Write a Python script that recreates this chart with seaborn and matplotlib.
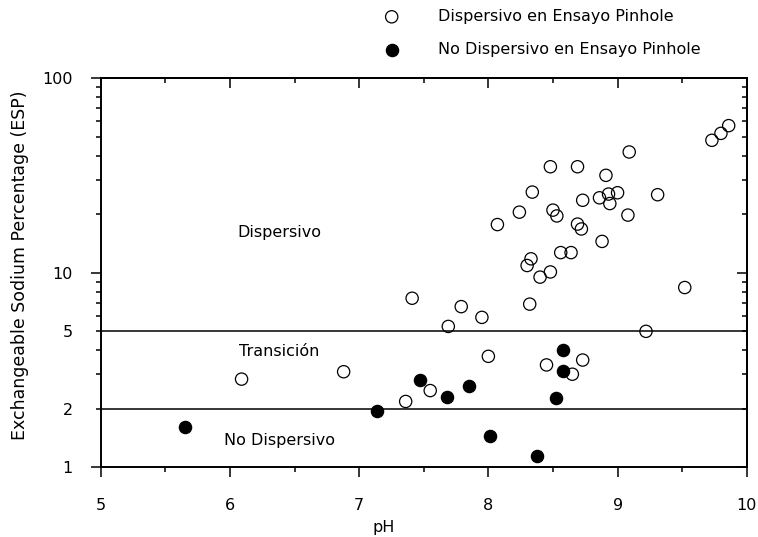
import numpy as np
import pandas as pd
import matplotlib
matplotlib.use("Agg")
import matplotlib.pyplot as plt
from matplotlib.ticker import FixedLocator, FuncFormatter, NullFormatter
import seaborn as sns

# datos (pH vs ESP)
ph_disp = [7.41, 7.79, 7.69, 7.95, 8.07, 8.24, 8.34, 8.48, 8.69, 8.91, 9.09,
           8.50, 8.53, 8.73, 8.86, 8.93, 9.00, 8.94, 9.08, 9.31, 8.69, 8.72,
           8.88, 8.56, 8.64, 8.33, 8.30, 8.48, 8.40, 8.32, 9.52, 9.22, 9.73,
           9.80, 9.86, 8.00, 8.45, 8.73, 8.65, 7.55, 7.36, 6.09, 6.88]
esp_disp = [7.4, 6.7, 5.3, 5.9, 17.7, 20.5, 26.0, 35.1, 35.1, 31.7, 41.8,
            21.0, 19.6, 23.6, 24.3, 25.4, 25.8, 22.7, 19.8, 25.2, 17.8, 16.8,
            14.5, 12.7, 12.7, 11.8, 10.9, 10.1, 9.5, 6.9, 8.4, 5.0, 48.0,
            52.1, 57.1, 3.72, 3.36, 3.56, 3.01, 2.48, 2.18, 2.84, 3.10]

ph_nodisp = [7.47, 7.68, 7.85, 8.58, 8.58, 8.52, 8.01, 8.38, 5.65, 7.14]
esp_nodisp = [2.81, 2.29, 2.63, 4.01, 3.14, 2.27, 1.44, 1.14, 1.62, 1.95]

serie_labels = ["Dispersivo en Ensayo Pinhole", "No Dispersivo en Ensayo Pinhole"]
limites_esp = [5, 2]
zonas = ["Dispersivo", "Transición", "No Dispersivo"]
zonas_ph = [6.38, 6.38, 6.38]
zonas_esp = [16.2, 3.96, 1.38]

df_disp = pd.DataFrame({"pH": ph_disp, "ESP": esp_disp})
df_nodisp = pd.DataFrame({"pH": ph_nodisp, "ESP": esp_nodisp})

sns.set_style("ticks")
plt.rcParams["font.family"] = ["DejaVu Sans"]
plt.rcParams.update({"text.color": "black", "axes.labelcolor": "black",
                     "xtick.color": "black", "ytick.color": "black",
                     "axes.edgecolor": "black"})
FS = 11.5

fig = plt.figure(figsize=(7.58, 5.37), dpi=100)
ax = fig.add_axes([0.1329, 0.1298, 0.8523, 0.7244])

sns.scatterplot(data=df_disp, x="pH", y="ESP", ax=ax, s=78,
                facecolor="none", edgecolor="black", linewidth=0.9,
                label=serie_labels[0], zorder=3)
sns.scatterplot(data=df_nodisp, x="pH", y="ESP", ax=ax, s=78,
                color="black", edgecolor="black", linewidth=0.9,
                label=serie_labels[1], zorder=3)

for v in limites_esp:
    ax.axhline(v, color="black", lw=1.1, zorder=2)

for t, px, py in zip(zonas, zonas_ph, zonas_esp):
    ax.text(px, py, t, ha="center", va="center", fontsize=FS)

ax.set_yscale("log")
ax.set_xlim(5, 10)
ax.set_ylim(1, 100)

# ejes abajo / izquierda: ticks hacia afuera
ax.xaxis.set_major_locator(FixedLocator([5, 6, 7, 8, 9, 10]))
ax.xaxis.set_minor_locator(FixedLocator([5.5, 6.5, 7.5, 8.5, 9.5]))
y_minor = [2, 3, 4, 5, 6, 7, 8, 9, 20, 30, 40, 50, 60, 70, 80, 90]
ax.yaxis.set_major_locator(FixedLocator([1, 10, 100]))
ax.yaxis.set_minor_locator(FixedLocator(y_minor))
ax.yaxis.set_major_formatter(FuncFormatter(lambda v, p: f"{v:g}"))
ax.yaxis.set_minor_formatter(FuncFormatter(lambda v, p: f"{v:g}" if v in (2, 5) else ""))

ax.tick_params(axis="x", which="major", direction="out", length=7.2, width=1.1,
               pad=15, labelsize=FS)
ax.tick_params(axis="x", which="minor", direction="out", length=3.6, width=1.1)
ax.tick_params(axis="y", which="major", direction="out", length=7.2, width=1.1,
               pad=13, labelsize=FS)
ax.tick_params(axis="y", which="minor", direction="out", length=3.6, width=1.1,
               pad=13 + 3.6, labelsize=FS)

# ejes arriba / derecha: ticks hacia adentro
top = ax.secondary_xaxis("top")
top.xaxis.set_major_locator(FixedLocator([5, 6, 7, 8, 9, 10]))
top.xaxis.set_minor_locator(FixedLocator([5.5, 6.5, 7.5, 8.5, 9.5]))
top.xaxis.set_major_formatter(NullFormatter())
top.tick_params(which="major", direction="in", length=7.2, width=1.1)
top.tick_params(which="minor", direction="in", length=3.6, width=1.1)

right = ax.secondary_yaxis("right")
right.yaxis.set_major_locator(FixedLocator([1, 10, 100]))
right.yaxis.set_minor_locator(FixedLocator(y_minor))
right.yaxis.set_major_formatter(NullFormatter())
right.yaxis.set_minor_formatter(NullFormatter())
right.tick_params(which="major", direction="in", length=7.2, width=1.1)
right.tick_params(which="minor", direction="in", length=3.6, width=1.1)

for s in ["top", "right", "bottom", "left"]:
    ax.spines[s].set_linewidth(1.4)
    ax.spines[s].set_visible(True)
top.spines["top"].set_linewidth(1.4)
right.spines["right"].set_linewidth(1.4)

ax.set_xlabel("")
ax.set_ylabel("")
fig.text(0.5065, 0.018, "pH", ha="center", va="center", fontsize=FS)
fig.text(0.0264, 0.5065, "Exchangeable Sodium Percentage (ESP)", ha="center",
         va="center", rotation=90, fontsize=12.5)

leg = ax.legend(loc="upper left", bbox_to_anchor=(383.7 / 758, 1 - 9 / 537),
                bbox_transform=fig.transFigure, frameon=False, fontsize=FS,
                borderpad=0, borderaxespad=0, handlelength=1.0,
                handletextpad=2.4, labelspacing=1.15)

fig.savefig("out.png", dpi=100)
